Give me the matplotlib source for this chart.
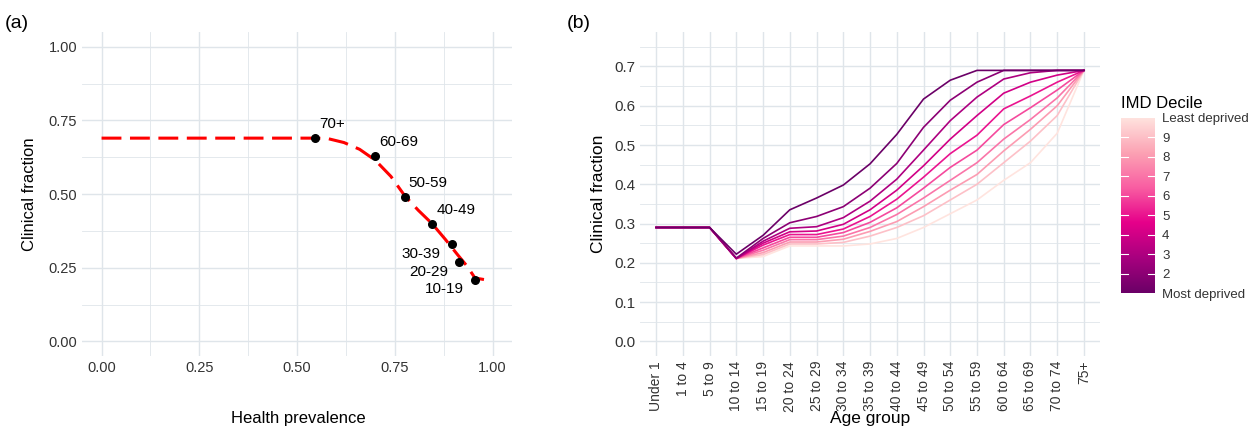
import matplotlib
matplotlib.use("Agg")
import matplotlib.pyplot as plt
import numpy as np
from matplotlib.colors import LinearSegmentedColormap

plt.rcParams['font.family'] = ['Liberation Sans', 'DejaVu Sans']

# panel (a) data
age_labels_a = ["70+", "60-69", "50-59", "40-49", "30-39", "20-29", "10-19"]
prev_pts = [0.545, 0.70, 0.775, 0.845, 0.895, 0.915, 0.955]
frac_pts = [0.69, 0.63, 0.49, 0.40, 0.33, 0.27, 0.21]
curve_x = [0.0, 0.55, 0.58, 0.62, 0.66, 0.70, 0.74, 0.775, 0.81, 0.845, 0.88, 0.91, 0.935, 0.955, 0.978]
curve_y = [0.69, 0.69, 0.688, 0.675, 0.652, 0.615, 0.56, 0.495, 0.445, 0.40, 0.345, 0.295, 0.255, 0.215, 0.21]

# panel (b) data
age_groups = ["Under 1", "1 to 4", "5 to 9", "10 to 14", "15 to 19", "20 to 24", "25 to 29",
              "30 to 34", "35 to 39", "40 to 44", "45 to 49", "50 to 54", "55 to 59",
              "60 to 64", "65 to 69", "70 to 74", "75+"]
deciles = list(range(1, 11))
clin = [
    [0.29, 0.29, 0.29, 0.222, 0.270, 0.335, 0.365, 0.398, 0.452, 0.527, 0.617, 0.665, 0.690, 0.690, 0.690, 0.690, 0.690],
    [0.29, 0.29, 0.29, 0.212, 0.262, 0.302, 0.318, 0.343, 0.390, 0.453, 0.545, 0.614, 0.660, 0.690, 0.690, 0.690, 0.690],
    [0.29, 0.29, 0.29, 0.211, 0.255, 0.288, 0.292, 0.315, 0.357, 0.413, 0.487, 0.562, 0.622, 0.668, 0.684, 0.690, 0.690],
    [0.29, 0.29, 0.29, 0.211, 0.250, 0.279, 0.281, 0.298, 0.335, 0.385, 0.447, 0.515, 0.575, 0.632, 0.660, 0.678, 0.690],
    [0.29, 0.29, 0.29, 0.211, 0.245, 0.272, 0.272, 0.286, 0.318, 0.362, 0.418, 0.478, 0.525, 0.592, 0.625, 0.660, 0.690],
    [0.29, 0.29, 0.29, 0.211, 0.238, 0.265, 0.265, 0.277, 0.303, 0.340, 0.390, 0.443, 0.487, 0.552, 0.595, 0.640, 0.690],
    [0.29, 0.29, 0.29, 0.211, 0.232, 0.259, 0.259, 0.268, 0.290, 0.323, 0.365, 0.410, 0.455, 0.515, 0.565, 0.620, 0.690],
    [0.29, 0.29, 0.29, 0.211, 0.226, 0.253, 0.253, 0.260, 0.280, 0.305, 0.343, 0.385, 0.425, 0.485, 0.540, 0.600, 0.690],
    [0.29, 0.29, 0.29, 0.211, 0.221, 0.248, 0.248, 0.252, 0.268, 0.290, 0.320, 0.360, 0.400, 0.455, 0.510, 0.575, 0.690],
    [0.29, 0.29, 0.29, 0.211, 0.216, 0.243, 0.243, 0.243, 0.248, 0.262, 0.290, 0.325, 0.360, 0.410, 0.455, 0.530, 0.690],
]
cbar_labels = ["Most deprived", "2", "3", "4", "5", "6", "7", "8", "9", "Least deprived"]

grid_col = "#dfe5ea"
txt_col = "#333333"
cmap = LinearSegmentedColormap.from_list(
    "imd", ["#6b0067", "#a8007f", "#e6008a", "#f95ea2", "#fca3b4", "#ffe4df"])


def minimal_grid(ax):
    ax.grid(True, which='major', color=grid_col, lw=1.0)
    ax.grid(True, which='minor', color=grid_col, lw=0.6)
    ax.set_axisbelow(True)
    for s in ax.spines.values():
        s.set_visible(False)
    ax.tick_params(which='both', length=0, labelsize=10.5, colors=txt_col, labelcolor=txt_col)
    ax.tick_params(which='minor', labelbottom=False, labelleft=False)


fig = plt.figure(figsize=(12.54, 4.28), dpi=100)

# (a)
ax1 = fig.add_axes([0.0654, 0.168, 0.343, 0.757])
minimal_grid(ax1)
ax1.plot(curve_x, curve_y, color='red', lw=2.2, ls=(0, (6.5, 2.8)), zorder=2)
ax1.scatter(prev_pts, frac_pts, color='black', s=30, zorder=3)
for i, (lab, x, y) in enumerate(zip(age_labels_a, prev_pts, frac_pts)):
    if i < 4:
        ax1.annotate(lab, (x, y), xytext=(3, 10), textcoords='offset points',
                     fontsize=11, ha='left', va='center')
    else:
        ax1.annotate(lab, (x, y), xytext=(-8, -7), textcoords='offset points',
                     fontsize=11, ha='right', va='center')
ax1.set_xlim(-0.05, 1.05)
ax1.set_ylim(-0.05, 1.05)
ax1.set_xticks([0, 0.25, 0.5, 0.75, 1.0])
ax1.set_xticklabels(["0.00", "0.25", "0.50", "0.75", "1.00"])
ax1.set_yticks([0, 0.25, 0.5, 0.75, 1.0])
ax1.set_yticklabels(["0.00", "0.25", "0.50", "0.75", "1.00"])
ax1.set_xticks([0.125, 0.375, 0.625, 0.875], minor=True)
ax1.set_yticks([0.125, 0.375, 0.625, 0.875], minor=True)
ax1.set_ylabel("Clinical fraction", fontsize=12, labelpad=8)
fig.text(0.2375, 1 - 418 / 428, "Health prevalence", fontsize=12, ha='center', va='center')

# (b)
ax2 = fig.add_axes([0.5104, 0.168, 0.3668, 0.757])
minimal_grid(ax2)
xs = np.arange(len(age_groups))
for d, row in reversed(list(zip(deciles, clin))):
    ax2.plot(xs, row, color=cmap((d - 1) / 9), lw=1.2)
ax2.set_xlim(-0.6, len(age_groups) - 1 + 0.6)
ax2.set_ylim(-0.0375, 0.7875)
ax2.set_xticks(xs)
ax2.set_xticklabels(age_groups, rotation=90, fontsize=10)
ax2.set_yticks(np.arange(0, 0.71, 0.1))
ax2.set_yticklabels(["0.0", "0.1", "0.2", "0.3", "0.4", "0.5", "0.6", "0.7"], fontsize=11)
ax2.set_yticks(np.arange(0.05, 0.76, 0.1), minor=True)
ax2.set_ylabel("Clinical fraction", fontsize=12.5, labelpad=6)
fig.text(0.5104 + 0.3668 / 2, 1 - 419 / 428, "Age group", fontsize=12.5, ha='center', va='center')

# colorbar
cax = fig.add_axes([0.894, 0.3154, 0.0271, 0.409])
grad = np.linspace(1, 10, 256).reshape(-1, 1)
cax.imshow(grad, aspect='auto', cmap=cmap, origin='lower', extent=[0, 1, 1, 10])
for d in deciles[1:-1]:
    cax.plot([0, 0.2], [d, d], color='white', lw=0.8)
    cax.plot([0.8, 1], [d, d], color='white', lw=0.8)
cax.set_xlim(0, 1)
cax.set_ylim(1, 10)
cax.set_xticks([])
cax.yaxis.tick_right()
cax.set_yticks(deciles)
cax.set_yticklabels(cbar_labels)
cax.tick_params(length=0, labelsize=9.5, pad=5, labelcolor=txt_col)
for s in cax.spines.values():
    s.set_visible(False)
fig.text(0.894, 1 - 103 / 428, "IMD Decile", fontsize=12, ha='left', va='center')

fig.text(0.004, 0.935, "(a)", fontsize=14)
fig.text(0.452, 0.935, "(b)", fontsize=14)

fig.savefig("out.png", dpi=100, facecolor='white')
